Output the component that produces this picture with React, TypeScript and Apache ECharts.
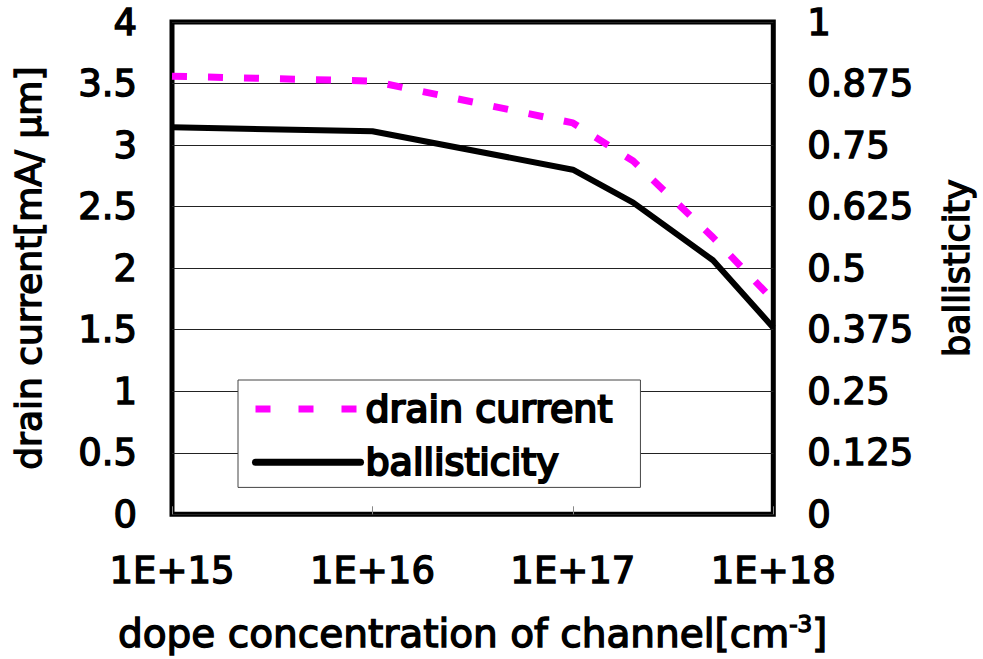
import React, { useEffect, useRef } from "react";
import * as echarts from "echarts";

const dopeConcentration = [1e15, 1e16, 1e17, 2e17, 5e17, 1e18];
const drainCurrent = [3.56, 3.52, 3.18, 2.87, 2.25, 1.74];
const ballisticity = [0.786, 0.778, 0.7, 0.633, 0.516, 0.379];
const leftTicks = { min: 0, max: 4, interval: 0.5 };
const rightTicks = { min: 0, max: 1, interval: 0.125 };
const xRange = { min: 1e15, max: 1e18 };

const FONT = "DejaVu Sans";
const T = (size: number, border = 1.4) => ({
  fontSize: size,
  fontFamily: FONT,
  fontWeight: "normal",
  color: "#000",
  textBorderColor: "#000",
  textBorderWidth: border,
});

export default function App() {
  const ref = useRef<HTMLDivElement>(null);
  useEffect(() => {
    if (!ref.current) return;
    const chart = echarts.init(ref.current, null, { renderer: "svg" });
    chart.setOption({
      animation: false,
      backgroundColor: "#fff",
      textStyle: { fontFamily: FONT, color: "#000" },
      grid: {
        left: 172,
        right: 200,
        top: 22,
        bottom: 141,
        show: true,
        borderColor: "#000",
        borderWidth: 5,
        backgroundColor: "transparent",
      },
      legend: {
        left: 238,
        top: 380,
        orient: "vertical",
        backgroundColor: "#fff",
        borderColor: "#444",
        borderWidth: 1,
        borderRadius: 0,
        padding: [9, 27, 5, 14],
        itemGap: 13,
        itemWidth: 105,
        itemHeight: 20,
        itemStyle: { color: "transparent", borderWidth: 0, opacity: 0 },
        textStyle: T(38, 2.2),
        data: [
          { name: "drain current", lineStyle: { width: 7, type: [15, 28], color: "#ff00ff" } },
          { name: "ballisticity", lineStyle: { width: 7, color: "#000", cap: "round" } },
        ],
      },
      xAxis: {
        type: "log",
        logBase: 10,
        min: xRange.min,
        max: xRange.max,
        axisLine: { show: false },
        axisTick: { show: true, inside: true, length: 8, lineStyle: { color: "#888", width: 1 } },
        splitLine: { show: false },
        axisLabel: {
          ...T(37),
          margin: 38,
          formatter: (v: number) => "1E+" + Math.round(Math.log10(v)),
        },
        name: "dope concentration of channel[cm{sup|-3}]",
        nameLocation: "middle",
        nameGap: 98,
        nameTextStyle: {
          ...T(39),
          rich: {
            sup: { ...T(23), padding: [0, 0, 20, 0] },
          },
        },
      },
      yAxis: [
        {
          type: "value",
          min: leftTicks.min,
          max: leftTicks.max,
          interval: leftTicks.interval,
          axisLine: { show: false },
          axisTick: { show: false },
          splitLine: { show: true, lineStyle: { color: "#222", width: 1 } },
          axisLabel: { ...T(37), margin: 35 },
          name: "drain current[mA/ μm]",
          nameLocation: "middle",
          nameRotate: 90,
          nameGap: 126,
          nameTextStyle: T(36),
        },
        {
          type: "value",
          min: rightTicks.min,
          max: rightTicks.max,
          interval: rightTicks.interval,
          position: "right",
          axisLine: { show: false },
          axisTick: { show: false },
          splitLine: { show: false },
          axisLabel: {
            ...T(37),
            margin: 34,
            formatter: (v: number) => String(v),
          },
          name: "ballisticity",
          nameLocation: "middle",
          nameRotate: 90,
          nameGap: 166,
          nameTextStyle: T(35),
        },
      ],
      series: [
        {
          name: "drain current",
          type: "line",
          yAxisIndex: 0,
          data: dopeConcentration.map((x, i) => [x, drainCurrent[i]]),
          showSymbol: false,
          symbol: "none",
          lineStyle: { color: "#ff00ff", width: 7, type: [15, 21] },
          itemStyle: { color: "#ff00ff" },
        },
        {
          name: "ballisticity",
          type: "line",
          yAxisIndex: 1,
          data: dopeConcentration.map((x, i) => [x, ballisticity[i]]),
          showSymbol: false,
          symbol: "none",
          lineStyle: { color: "#000", width: 6 },
          itemStyle: { color: "#000" },
        },
      ],
    });
    return () => chart.dispose();
  }, []);
  return (
    <div
      ref={ref}
      style={{ position: "fixed", left: 0, top: 0, width: 983, height: 659 }}
    />
  );
}
